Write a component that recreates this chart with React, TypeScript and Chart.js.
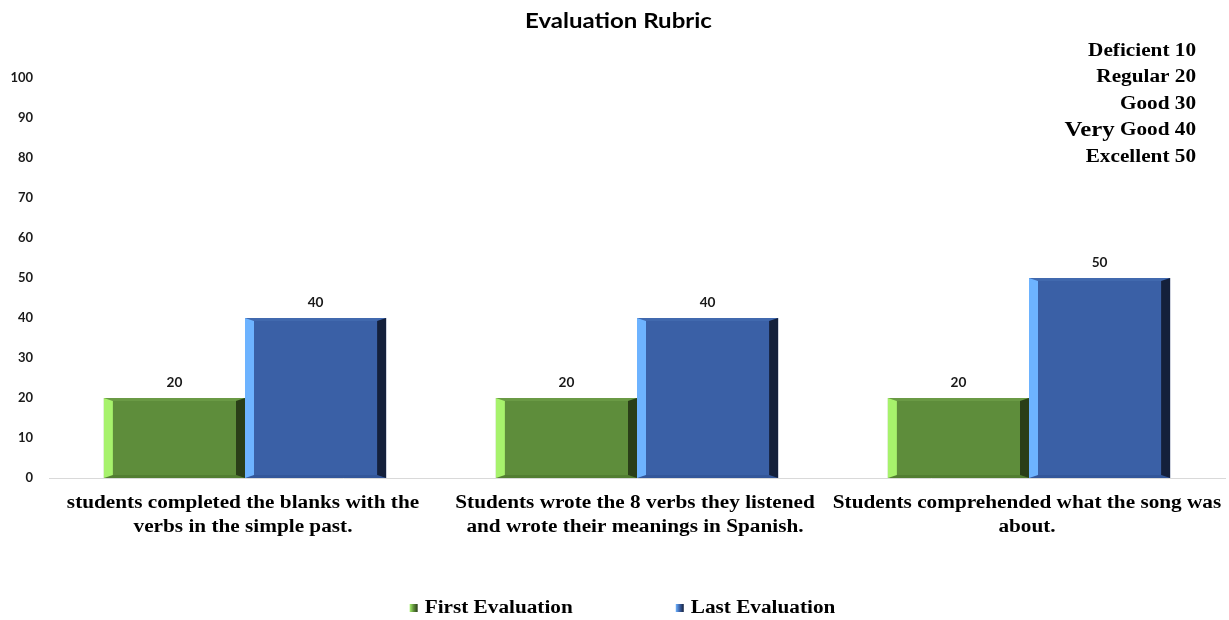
import React, { useEffect, useRef } from "react";
import { Chart, registerables } from "chart.js";

Chart.register(...registerables);

const TITLE = "Evaluation Rubric";
const categories: string[][] = [
  ["students completed the blanks with the", "verbs in the simple past."],
  ["Students wrote the 8 verbs they listened", "and wrote their meanings in Spanish."],
  ["Students comprehended what the song was", "about."],
];
const seriesNames = ["First Evaluation", "Last Evaluation"];
const firstEvaluation = [20, 20, 20];
const lastEvaluation = [40, 40, 50];
const rubricLines: [string, string][] = [
  ["", "Deficient 10"],
  ["", "Regular 20"],
  ["", "Good 30"],
  ["Very", " Good 40"],
  ["", "Excellent 50"],
];
const yMin = 0;
const yMax = 100;
const yStep = 10;

const palettes = [
  { face: "#5E8D3B", light: "#A7F26C", dark: "#2A3E18", top: "#6A9A45", bottom: "#527E32" },
  { face: "#3A60A6", light: "#6DB3FF", dark: "#14203B", top: "#4169AE", bottom: "#33579A" },
];

const SERIF = "'Liberation Serif', 'Times New Roman', serif";
const SANS = "Lato, 'Open Sans', sans-serif";
const SX = 1.18; // horizontal stretch of the reference text

function drawText(ctx: any, text: string, x: number, y: number, align: string, sx: number) {
  ctx.save();
  ctx.translate(x, y);
  ctx.scale(sx, 1);
  ctx.textAlign = align;
  ctx.fillText(text, 0, 0);
  ctx.restore();
}

const bevelPlugin = {
  id: "bevel",
  afterDatasetsDraw(chart: any) {
    const ctx = chart.ctx;
    chart.data.datasets.forEach((ds: any, di: number) => {
      const meta = chart.getDatasetMeta(di);
      const p = palettes[di];
      meta.data.forEach((bar: any, i: number) => {
        const { x, y, base, width } = bar.getProps(["x", "y", "base", "width"], true);
        const L = x - width / 2;
        const R = x + width / 2;
        const T = Math.min(y, base);
        const B = Math.max(y, base);
        const b = 9;
        const t = 3;
        const poly = (pts: number[][], color: string) => {
          ctx.beginPath();
          ctx.moveTo(pts[0][0], pts[0][1]);
          for (let k = 1; k < pts.length; k++) ctx.lineTo(pts[k][0], pts[k][1]);
          ctx.closePath();
          ctx.fillStyle = color;
          ctx.fill();
        };
        ctx.save();
        poly([[L, T], [R, T], [R - b, T + t], [L + b, T + t]], p.top);
        poly([[L, B], [R, B], [R - b, B - t], [L + b, B - t]], p.bottom);
        poly([[L, T], [L + b, T + t], [L + b, B - t], [L, B]], p.light);
        poly([[R, T], [R - b, T + t], [R - b, B - t], [R, B]], p.dark);
        ctx.fillStyle = "#1a1a1a";
        ctx.font = `bold 13px ${SANS}`;
        ctx.textBaseline = "alphabetic";
        drawText(ctx, String(ds.data[i]), x, T - 11, "center", 1.05);
        ctx.restore();
      });
    });
  },
};

const decorPlugin = {
  id: "decor",
  afterDraw(chart: any) {
    const ctx = chart.ctx;
    const W = chart.width;
    const area = chart.chartArea;
    ctx.save();
    ctx.fillStyle = "#000";

    // title
    ctx.font = `bold 20px ${SANS}`;
    ctx.textBaseline = "middle";
    drawText(ctx, TITLE, W / 2 + 4, 22, "center", 1.2);

    // category labels
    const xs = chart.scales.x;
    ctx.font = `bold 18px ${SERIF}`;
    ctx.textBaseline = "middle";
    categories.forEach((lines, i) => {
      const cx = xs.getPixelForValue(i) - 2;
      lines.forEach((ln, k) => {
        drawText(ctx, ln, cx, area.bottom + 25 + k * 24, "center", SX);
      });
    });

    // rubric
    const rightX = area.right - 29;
    rubricLines.forEach((ln, k) => {
      const yy = 51 + k * 26.5;
      ctx.textBaseline = "middle";
      ctx.font = `bold 18px ${SERIF}`;
      drawText(ctx, ln[1], rightX, yy, "right", SX);
      if (ln[0]) {
        const w = ctx.measureText(ln[1]).width * SX;
        ctx.font = `bold 21px ${SERIF}`;
        drawText(ctx, ln[0], rightX - w, yy, "right", SX);
      }
    });

    // legend
    ctx.font = `bold 18px ${SERIF}`;
    const box = 8;
    const gap = 7;
    const itemGap = 103;
    const widths = seriesNames.map((n) => ctx.measureText(n).width * SX);
    const total = widths.reduce((a, w) => a + box + gap + w, 0) + itemGap * (seriesNames.length - 1);
    let cx = W / 2 + 8 - total / 2;
    const ly = 608;
    seriesNames.forEach((n, k) => {
      const p = palettes[k];
      const g = ctx.createLinearGradient(cx, 0, cx + box, 0);
      g.addColorStop(0, p.light);
      g.addColorStop(0.5, p.face);
      g.addColorStop(1, p.dark);
      ctx.fillStyle = g;
      ctx.fillRect(cx, ly - box / 2, box, box);
      ctx.fillStyle = "#000";
      ctx.textBaseline = "middle";
      drawText(ctx, n, cx + box + gap, ly, "left", SX);
      cx += box + gap + widths[k] + itemGap;
    });
    ctx.restore();
  },
};

export default function App() {
  const ref = useRef<HTMLCanvasElement>(null);
  useEffect(() => {
    if (!ref.current) return;
    const chart = new Chart(ref.current, {
      type: "bar",
      data: {
        labels: categories.map((c) => c.join(" ")),
        datasets: [
          { label: seriesNames[0], data: firstEvaluation, backgroundColor: palettes[0].face, borderWidth: 0 },
          { label: seriesNames[1], data: lastEvaluation, backgroundColor: palettes[1].face, borderWidth: 0 },
        ],
      },
      options: {
        responsive: false,
        animation: false,
        layout: { padding: { top: 78, right: 4, left: 0, bottom: 0 } },
        datasets: { bar: { barPercentage: 1, categoryPercentage: 0.72 } },
        plugins: {
          legend: { display: false },
          title: { display: false },
          tooltip: { enabled: false },
        },
        scales: {
          x: {
            grid: { display: false, drawTicks: false },
            border: { display: true, color: "#d9d9d9", width: 1 },
            ticks: { display: false },
            afterFit: (s: any) => {
              s.height = 142;
            },
          },
          y: {
            min: yMin,
            max: yMax,
            grid: { display: false, drawTicks: false },
            border: { display: false },
            ticks: {
              stepSize: yStep,
              color: "#1a1a1a",
              font: { family: SANS, size: 13, weight: "bold" },
              padding: 16,
            },
            afterFit: (s: any) => {
              s.width = 49;
            },
          },
        },
      },
      plugins: [bevelPlugin, decorPlugin],
    });
    return () => chart.destroy();
  }, []);
  return (
    <div style={{ position: "absolute", left: 0, top: 0, width: 1229, height: 620, background: "#fff" }}>
      <canvas ref={ref} width={1229} height={620} />
    </div>
  );
}
